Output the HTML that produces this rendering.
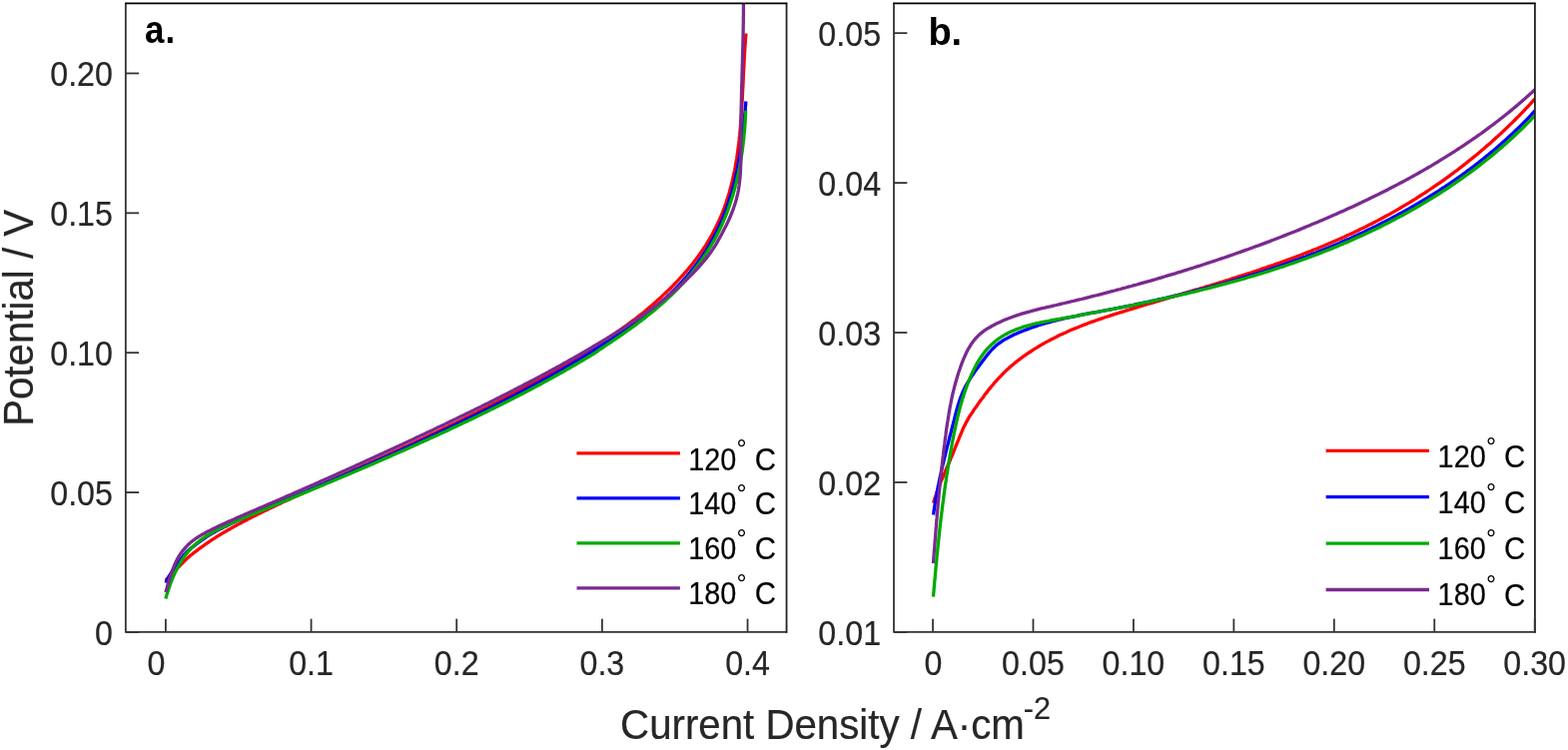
<!DOCTYPE html>
<html lang="en"><head><meta charset="utf-8"><title>Polarization curves</title>
<style>html,body{margin:0;padding:0;background:#fff;}body{width:1570px;height:751px;overflow:hidden;}svg{display:block;}text{font-family:"Liberation Sans",sans-serif;fill:#262626;stroke:#262626;stroke-width:0.2px;}.k{fill:#000;stroke:#000;}.bd{font-weight:bold;fill:#000;stroke:none;}.c{fill:none;stroke-width:3.3;stroke-linejoin:round;stroke-linecap:butt;}</style>
</head><body>
<svg width="1570" height="751" viewBox="0 0 1570 751">
<rect x="0" y="0" width="1570" height="751" fill="#fff"/>
<defs><clipPath id="ca"><rect x="125.85" y="3.25" width="661.70" height="629.70"/></clipPath><clipPath id="cb"><rect x="895.0" y="3.25" width="641.90" height="629.70"/></clipPath></defs>
<g clip-path="url(#ca)">
<path class="c" stroke="#ff0000" d="M165.9,581.2 L166.3,580.7 L166.8,580.1 L167.4,579.4 L168.0,578.7 L168.6,578.1 L169.2,577.4 L169.8,576.7 L170.5,576.0 L171.2,575.3 L171.8,574.6 L172.5,573.9 L173.2,573.2 L174.0,572.5 L174.7,571.8 L175.4,571.1 L176.1,570.4 L176.9,569.7 L177.6,569.0 L178.3,568.2 L179.1,567.5 L179.8,566.8 L180.5,566.1 L181.2,565.4 L181.9,564.7 L182.6,564.0 L183.3,563.3 L183.9,562.6 L184.6,561.9 L185.3,561.2 L186.0,560.5 L186.7,559.8 L187.5,559.1 L188.2,558.4 L189.0,557.7 L189.8,557.0 L190.7,556.2 L191.6,555.5 L192.6,554.7 L193.5,553.9 L194.6,553.2 L195.6,552.4 L196.7,551.6 L197.7,550.8 L198.8,550.0 L199.9,549.2 L201.0,548.4 L202.1,547.6 L203.2,546.8 L204.3,546.0 L205.4,545.2 L206.6,544.4 L207.7,543.6 L208.9,542.8 L210.1,542.0 L211.3,541.2 L212.5,540.4 L213.7,539.6 L215.0,538.8 L216.2,538.0 L217.5,537.2 L218.8,536.4 L220.2,535.5 L221.5,534.7 L222.9,533.9 L224.4,533.0 L225.8,532.2 L227.2,531.4 L228.7,530.5 L230.2,529.7 L231.7,528.8 L233.2,528.0 L234.8,527.1 L236.3,526.3 L237.9,525.4 L239.4,524.6 L241.0,523.7 L242.6,522.9 L244.2,522.0 L245.9,521.2 L247.5,520.4 L249.1,519.5 L250.7,518.7 L252.4,517.8 L254.0,517.0 L255.7,516.2 L257.3,515.4 L259.0,514.5 L260.7,513.7 L262.3,512.9 L264.0,512.1 L265.7,511.2 L267.4,510.4 L269.1,509.6 L270.8,508.8 L272.5,508.0 L274.2,507.2 L275.9,506.3 L277.6,505.5 L279.4,504.7 L281.1,503.9 L282.8,503.1 L284.5,502.3 L286.3,501.5 L288.0,500.7 L289.8,499.9 L291.5,499.1 L293.2,498.3 L295.0,497.5 L296.7,496.7 L298.5,495.9 L300.3,495.1 L302.0,494.3 L303.8,493.5 L305.5,492.7 L307.3,491.9 L309.1,491.1 L310.8,490.3 L312.6,489.5 L314.4,488.7 L316.1,487.9 L317.9,487.1 L319.7,486.3 L321.4,485.5 L323.2,484.7 L325.0,483.9 L326.7,483.1 L328.5,482.3 L330.3,481.5 L332.1,480.7 L333.8,479.9 L335.6,479.1 L337.4,478.3 L339.1,477.5 L340.9,476.7 L342.7,475.9 L344.5,475.1 L346.2,474.3 L348.0,473.5 L349.8,472.7 L351.6,471.9 L353.3,471.1 L355.1,470.3 L356.9,469.5 L358.7,468.7 L360.4,467.9 L362.2,467.1 L364.0,466.3 L365.7,465.5 L367.5,464.7 L369.3,463.9 L371.1,463.1 L372.8,462.3 L374.6,461.5 L376.4,460.7 L378.1,459.9 L379.9,459.1 L381.7,458.3 L383.4,457.5 L385.2,456.7 L386.9,455.9 L388.7,455.1 L390.5,454.2 L392.2,453.4 L394.0,452.6 L395.7,451.8 L397.5,451.0 L399.3,450.2 L401.0,449.4 L402.8,448.6 L404.5,447.8 L406.3,447.0 L408.0,446.2 L409.8,445.4 L411.5,444.6 L413.2,443.7 L415.0,442.9 L416.7,442.1 L418.5,441.3 L420.2,440.5 L421.9,439.7 L423.7,438.9 L425.4,438.1 L427.1,437.3 L428.9,436.4 L430.6,435.6 L432.3,434.8 L434.0,434.0 L435.8,433.2 L437.5,432.4 L439.2,431.6 L440.9,430.7 L442.6,429.9 L444.3,429.1 L446.0,428.3 L447.7,427.5 L449.4,426.6 L451.1,425.8 L452.8,425.0 L454.5,424.2 L456.2,423.4 L457.9,422.5 L459.6,421.7 L461.3,420.9 L463.0,420.1 L464.6,419.3 L466.3,418.4 L468.0,417.6 L469.7,416.8 L471.3,416.0 L473.0,415.1 L474.7,414.3 L476.3,413.5 L478.0,412.6 L479.6,411.8 L481.3,411.0 L482.9,410.2 L484.6,409.3 L486.2,408.5 L487.8,407.7 L489.5,406.8 L491.1,406.0 L492.7,405.2 L494.3,404.3 L496.0,403.5 L497.6,402.7 L499.2,401.8 L500.8,401.0 L502.4,400.2 L504.0,399.3 L505.6,398.5 L507.2,397.6 L508.8,396.8 L510.4,396.0 L511.9,395.1 L513.5,394.3 L515.1,393.5 L516.7,392.6 L518.2,391.8 L519.8,390.9 L521.3,390.1 L522.9,389.3 L524.4,388.4 L526.0,387.6 L527.5,386.7 L529.1,385.9 L530.6,385.0 L532.1,384.2 L533.6,383.4 L535.1,382.5 L536.7,381.7 L538.2,380.8 L539.7,380.0 L541.2,379.2 L542.6,378.3 L544.1,377.5 L545.6,376.6 L547.1,375.8 L548.6,375.0 L550.0,374.1 L551.5,373.3 L552.9,372.4 L554.4,371.6 L555.8,370.8 L557.3,369.9 L558.7,369.1 L560.2,368.2 L561.6,367.4 L563.0,366.6 L564.4,365.7 L565.8,364.9 L567.2,364.1 L568.6,363.2 L570.0,362.4 L571.4,361.6 L572.8,360.7 L574.2,359.9 L575.5,359.1 L576.9,358.2 L578.2,357.4 L579.6,356.6 L580.9,355.7 L582.3,354.9 L583.6,354.1 L584.9,353.3 L586.3,352.4 L587.6,351.6 L588.9,350.8 L590.2,350.0 L591.5,349.1 L592.8,348.3 L594.0,347.5 L595.3,346.7 L597.3,345.5 L599.3,344.3 L601.3,343.1 L603.3,341.8 L605.3,340.6 L607.3,339.4 L609.2,338.1 L611.2,336.8 L613.1,335.6 L615.1,334.3 L617.0,333.0 L618.9,331.7 L620.9,330.4 L622.8,329.0 L624.7,327.7 L626.6,326.4 L628.4,325.0 L630.3,323.6 L632.2,322.2 L634.0,320.9 L635.9,319.5 L637.7,318.0 L639.5,316.6 L641.4,315.2 L643.2,313.7 L645.0,312.3 L646.8,310.8 L648.5,309.3 L650.3,307.8 L652.1,306.3 L653.8,304.8 L655.6,303.2 L657.3,301.7 L659.1,300.1 L660.8,298.6 L662.5,297.0 L664.2,295.4 L665.9,293.8 L667.6,292.2 L669.2,290.6 L670.9,289.0 L672.6,287.3 L674.2,285.7 L675.8,284.0 L677.4,282.3 L679.1,280.6 L680.6,278.9 L682.2,277.2 L683.8,275.5 L685.3,273.7 L686.9,272.0 L688.4,270.2 L689.9,268.4 L691.4,266.6 L692.9,264.8 L694.3,263.0 L695.7,261.1 L697.2,259.3 L698.5,257.4 L699.9,255.5 L701.3,253.6 L702.6,251.7 L703.9,249.7 L705.2,247.8 L706.5,245.8 L707.7,243.8 L708.9,241.8 L710.1,239.8 L711.3,237.8 L712.5,235.7 L713.6,233.7 L714.7,231.6 L715.8,229.6 L716.8,227.5 L717.8,225.4 L718.8,223.3 L719.8,221.2 L720.8,219.0 L721.7,216.9 L722.6,214.8 L723.5,212.6 L724.3,210.5 L725.1,208.3 L725.9,206.1 L726.7,204.0 L727.4,201.8 L728.1,199.6 L728.8,197.4 L729.5,195.2 L730.2,193.0 L730.8,190.7 L731.4,188.5 L732.0,186.3 L732.6,184.0 L733.1,181.8 L733.6,179.5 L734.1,177.3 L734.6,175.0 L735.1,172.7 L735.6,170.5 L736.0,168.2 L736.4,165.9 L736.8,163.6 L737.2,161.3 L737.6,159.0 L737.9,156.7 L738.3,154.4 L738.6,152.1 L738.9,149.8 L739.2,147.5 L739.5,145.2 L739.8,142.9 L740.1,140.5 L740.3,138.2 L740.6,135.9 L740.8,133.6 L741.0,131.2 L741.2,128.9 L741.4,126.6 L741.6,124.2 L741.8,121.9 L742.0,119.5 L742.1,117.2 L742.3,114.9 L742.5,112.5 L742.6,110.2 L742.8,107.8 L742.9,105.5 L743.0,103.1 L743.2,100.8 L743.3,98.4 L743.4,96.1 L743.5,93.7 L743.6,91.4 L743.7,89.1 L743.9,86.7 L744.0,84.4 L744.1,82.0 L744.2,79.7 L744.3,77.4 L744.4,75.0 L744.5,72.7 L744.6,70.4 L744.8,68.0 L744.9,65.7 L745.0,63.4 L745.1,61.1 L745.2,58.7 L745.4,56.4 L745.5,54.1 L745.6,51.8 L745.8,49.5 L745.9,47.2 L746.1,44.9 L746.3,42.6 L746.4,40.3 L746.6,38.1 L746.8,35.8 L747.0,33.5"/>
<path class="c" stroke="#0000ff" d="M166.0,583.6 L166.3,582.9 L166.6,582.3 L166.8,581.7 L167.1,581.2 L167.4,580.6 L167.7,580.0 L168.0,579.4 L168.3,578.8 L168.7,578.2 L169.0,577.5 L169.4,576.9 L169.7,576.3 L170.1,575.7 L170.5,575.1 L170.9,574.4 L171.3,573.8 L171.7,573.2 L172.1,572.5 L172.6,571.9 L173.0,571.3 L173.4,570.6 L173.9,570.0 L174.3,569.3 L174.8,568.7 L175.2,568.1 L175.7,567.4 L176.1,566.8 L176.6,566.1 L177.1,565.5 L177.6,564.8 L178.0,564.2 L178.5,563.5 L179.0,562.9 L179.5,562.2 L179.9,561.5 L180.4,560.9 L180.9,560.2 L181.4,559.6 L181.8,558.9 L182.3,558.3 L182.8,557.6 L183.3,557.0 L183.8,556.3 L184.3,555.6 L184.9,554.9 L185.5,554.3 L186.1,553.6 L186.8,552.9 L187.5,552.1 L188.3,551.4 L189.2,550.7 L190.0,549.9 L191.0,549.1 L191.9,548.4 L193.0,547.6 L194.0,546.8 L195.1,546.0 L196.2,545.2 L197.3,544.3 L198.4,543.5 L199.6,542.7 L200.7,541.9 L201.9,541.0 L203.0,540.2 L204.2,539.4 L205.4,538.6 L206.6,537.7 L207.9,536.9 L209.2,536.0 L210.5,535.2 L211.9,534.4 L213.4,533.5 L214.9,532.7 L216.5,531.8 L218.1,530.9 L219.8,530.1 L221.5,529.2 L223.2,528.4 L224.9,527.5 L226.7,526.7 L228.4,525.8 L230.2,525.0 L232.0,524.1 L233.7,523.3 L235.5,522.5 L237.3,521.6 L239.1,520.8 L240.9,520.0 L242.7,519.2 L244.5,518.4 L246.3,517.5 L248.1,516.7 L250.0,515.9 L251.8,515.1 L253.6,514.3 L255.5,513.5 L257.3,512.7 L259.2,511.9 L261.0,511.1 L262.9,510.3 L264.7,509.5 L266.6,508.7 L268.5,507.9 L270.3,507.1 L272.2,506.4 L274.1,505.6 L275.9,504.8 L277.8,504.0 L279.7,503.2 L281.6,502.4 L283.4,501.6 L285.3,500.8 L287.2,500.1 L289.1,499.3 L291.0,498.5 L292.8,497.7 L294.7,496.9 L296.6,496.1 L298.5,495.3 L300.4,494.5 L302.2,493.7 L304.1,492.9 L306.0,492.2 L307.9,491.4 L309.7,490.6 L311.6,489.8 L313.5,489.0 L315.4,488.2 L317.2,487.4 L319.1,486.6 L321.0,485.8 L322.9,485.0 L324.7,484.2 L326.6,483.4 L328.5,482.6 L330.3,481.8 L332.2,481.0 L334.1,480.2 L335.9,479.4 L337.8,478.6 L339.7,477.8 L341.5,477.0 L343.4,476.2 L345.3,475.4 L347.1,474.6 L349.0,473.8 L350.8,473.0 L352.7,472.1 L354.6,471.3 L356.4,470.5 L358.3,469.7 L360.1,468.9 L362.0,468.1 L363.8,467.3 L365.7,466.5 L367.5,465.7 L369.4,464.9 L371.2,464.0 L373.1,463.2 L374.9,462.4 L376.7,461.6 L378.6,460.8 L380.4,460.0 L382.3,459.2 L384.1,458.3 L385.9,457.5 L387.8,456.7 L389.6,455.9 L391.4,455.1 L393.3,454.2 L395.1,453.4 L396.9,452.6 L398.7,451.8 L400.5,451.0 L402.4,450.1 L404.2,449.3 L406.0,448.5 L407.8,447.7 L409.6,446.8 L411.4,446.0 L413.3,445.2 L415.1,444.4 L416.9,443.5 L418.7,442.7 L420.5,441.9 L422.3,441.0 L424.1,440.2 L425.9,439.4 L427.7,438.5 L429.5,437.7 L431.2,436.9 L433.0,436.1 L434.8,435.2 L436.6,434.4 L438.4,433.5 L440.2,432.7 L441.9,431.9 L443.7,431.0 L445.5,430.2 L447.3,429.4 L449.0,428.5 L450.8,427.7 L452.6,426.8 L454.3,426.0 L456.1,425.2 L457.8,424.3 L459.6,423.5 L461.3,422.6 L463.1,421.8 L464.8,420.9 L466.6,420.1 L468.3,419.3 L470.1,418.4 L471.8,417.6 L473.5,416.7 L475.3,415.9 L477.0,415.0 L478.7,414.2 L480.4,413.3 L482.2,412.5 L483.9,411.6 L485.6,410.8 L487.3,409.9 L489.0,409.1 L490.7,408.2 L492.4,407.4 L494.1,406.5 L495.8,405.7 L497.5,404.8 L499.2,403.9 L500.9,403.1 L502.6,402.2 L504.3,401.4 L505.9,400.5 L507.6,399.7 L509.3,398.8 L510.9,397.9 L512.6,397.1 L514.3,396.2 L515.9,395.4 L517.6,394.5 L519.2,393.6 L520.9,392.8 L522.5,391.9 L524.1,391.1 L525.8,390.2 L527.4,389.3 L529.0,388.5 L530.6,387.6 L532.2,386.7 L533.8,385.9 L535.4,385.0 L537.0,384.2 L538.6,383.3 L540.2,382.4 L541.8,381.6 L543.4,380.7 L545.0,379.8 L546.5,379.0 L548.1,378.1 L549.6,377.3 L551.2,376.4 L552.7,375.5 L554.3,374.7 L555.8,373.8 L557.3,372.9 L558.9,372.1 L560.4,371.2 L561.9,370.4 L563.4,369.5 L564.9,368.6 L566.4,367.8 L567.9,366.9 L569.3,366.1 L570.8,365.2 L572.3,364.4 L573.7,363.5 L575.2,362.6 L576.6,361.8 L578.1,360.9 L579.5,360.1 L580.9,359.2 L582.3,358.4 L583.7,357.5 L585.1,356.7 L586.5,355.8 L587.9,354.9 L589.3,354.1 L590.7,353.2 L592.1,352.4 L593.4,351.5 L594.8,350.7 L596.4,349.7 L598.0,348.7 L599.6,347.7 L601.2,346.7 L602.9,345.7 L604.5,344.7 L606.1,343.7 L607.7,342.6 L609.3,341.6 L611.0,340.6 L612.6,339.5 L614.2,338.5 L615.8,337.4 L617.4,336.3 L619.0,335.2 L620.7,334.2 L622.3,333.1 L623.9,332.0 L625.5,330.9 L627.1,329.8 L628.7,328.6 L630.3,327.5 L631.8,326.4 L633.4,325.2 L635.0,324.1 L636.6,322.9 L638.1,321.8 L639.7,320.6 L641.3,319.4 L642.8,318.2 L644.4,317.0 L645.9,315.8 L647.5,314.6 L649.0,313.4 L650.5,312.2 L652.0,311.0 L653.5,309.7 L655.1,308.5 L656.5,307.2 L658.0,305.9 L659.5,304.7 L661.0,303.4 L662.5,302.1 L663.9,300.8 L665.4,299.5 L666.8,298.2 L668.2,296.8 L669.6,295.5 L671.0,294.2 L672.4,292.8 L673.8,291.5 L675.2,290.1 L676.6,288.7 L677.9,287.3 L679.3,285.9 L680.6,284.5 L681.9,283.1 L683.3,281.7 L684.6,280.2 L685.8,278.8 L687.1,277.3 L688.4,275.9 L689.6,274.4 L690.9,272.9 L692.1,271.4 L693.3,269.9 L694.5,268.4 L695.7,266.9 L696.8,265.3 L698.0,263.8 L699.1,262.3 L700.2,260.7 L701.4,259.1 L702.4,257.5 L703.5,256.0 L704.6,254.4 L705.6,252.7 L706.7,251.1 L707.7,249.5 L708.7,247.9 L709.7,246.2 L710.7,244.6 L711.6,242.9 L712.6,241.2 L713.5,239.6 L714.4,237.9 L715.3,236.2 L716.2,234.5 L717.1,232.8 L717.9,231.0 L718.8,229.3 L719.6,227.6 L720.4,225.8 L721.2,224.1 L722.0,222.3 L722.7,220.6 L723.5,218.8 L724.2,217.0 L724.9,215.2 L725.6,213.4 L726.3,211.6 L727.0,209.8 L727.6,208.0 L728.3,206.2 L728.9,204.4 L729.5,202.5 L730.1,200.7 L730.7,198.9 L731.2,197.0 L731.8,195.2 L732.3,193.3 L732.9,191.4 L733.4,189.6 L733.9,187.7 L734.4,185.8 L734.8,183.9 L735.3,182.1 L735.8,180.2 L736.2,178.3 L736.6,176.4 L737.1,174.5 L737.5,172.6 L737.9,170.7 L738.3,168.8 L738.6,166.9 L739.0,164.9 L739.4,163.0 L739.7,161.1 L740.1,159.2 L740.4,157.3 L740.7,155.3 L741.0,153.4 L741.3,151.5 L741.6,149.6 L741.9,147.6 L742.2,145.7 L742.5,143.8 L742.7,141.8 L743.0,139.9 L743.2,138.0 L743.5,136.1 L743.7,134.1 L743.9,132.2 L744.2,130.3 L744.4,128.3 L744.6,126.4 L744.8,124.5 L745.0,122.6 L745.2,120.6 L745.4,118.7 L745.6,116.8 L745.7,114.9 L745.9,112.9 L746.1,111.0 L746.3,109.1 L746.4,107.2 L746.6,105.3 L746.7,103.4 L746.9,101.5"/>
<path class="c" stroke="#00aa00" d="M165.9,599.5 L166.2,598.3 L166.4,597.7 L166.6,597.1 L166.8,596.4 L166.9,595.8 L167.1,595.2 L167.3,594.6 L167.5,594.0 L167.7,593.4 L167.9,592.8 L168.1,592.2 L168.3,591.6 L168.5,591.0 L168.7,590.4 L168.9,589.7 L169.1,589.1 L169.3,588.5 L169.5,587.9 L169.7,587.3 L169.9,586.7 L170.1,586.0 L170.4,585.4 L170.6,584.8 L170.8,584.2 L171.0,583.6 L171.3,582.9 L171.5,582.3 L171.8,581.7 L172.0,581.0 L172.3,580.4 L172.5,579.8 L172.8,579.1 L173.0,578.5 L173.3,577.9 L173.6,577.2 L173.9,576.6 L174.1,576.0 L174.4,575.3 L174.7,574.7 L175.0,574.0 L175.3,573.4 L175.6,572.7 L176.0,572.1 L176.3,571.4 L176.6,570.8 L176.9,570.1 L177.3,569.5 L177.6,568.8 L178.0,568.1 L178.3,567.5 L178.7,566.8 L179.0,566.2 L179.4,565.5 L179.8,564.8 L180.2,564.1 L180.6,563.5 L181.0,562.8 L181.4,562.1 L181.8,561.4 L182.2,560.7 L182.7,560.1 L183.1,559.4 L183.6,558.7 L184.1,558.0 L184.6,557.3 L185.1,556.5 L185.6,555.8 L186.2,555.1 L186.8,554.4 L187.4,553.6 L188.0,552.9 L188.6,552.1 L189.3,551.4 L190.0,550.6 L190.7,549.8 L191.5,549.0 L192.3,548.2 L193.1,547.4 L193.9,546.6 L194.8,545.8 L195.8,544.9 L196.7,544.1 L197.8,543.2 L198.8,542.4 L199.9,541.5 L201.1,540.6 L202.3,539.7 L203.6,538.8 L205.0,537.9 L206.4,537.0 L207.9,536.1 L209.4,535.2 L210.9,534.3 L212.5,533.3 L214.2,532.4 L215.9,531.5 L217.6,530.6 L219.4,529.7 L221.2,528.8 L223.0,527.9 L224.9,527.0 L226.8,526.1 L228.7,525.2 L230.7,524.4 L232.7,523.5 L234.7,522.6 L236.7,521.7 L238.7,520.9 L240.8,520.0 L242.8,519.1 L244.9,518.2 L247.0,517.4 L249.1,516.5 L251.2,515.6 L253.3,514.8 L255.4,513.9 L257.5,513.0 L259.6,512.2 L261.7,511.3 L263.8,510.4 L265.9,509.6 L268.0,508.7 L270.1,507.8 L272.2,507.0 L274.3,506.1 L276.4,505.2 L278.5,504.4 L280.6,503.5 L282.7,502.6 L284.8,501.8 L286.9,500.9 L289.0,500.1 L291.0,499.2 L293.1,498.3 L295.2,497.5 L297.3,496.6 L299.4,495.7 L301.5,494.9 L303.5,494.0 L305.6,493.1 L307.7,492.3 L309.8,491.4 L311.8,490.5 L313.9,489.7 L316.0,488.8 L318.1,487.9 L320.1,487.1 L322.2,486.2 L324.3,485.3 L326.3,484.5 L328.4,483.6 L330.5,482.7 L332.5,481.9 L334.6,481.0 L336.6,480.1 L338.7,479.3 L340.7,478.4 L342.8,477.5 L344.8,476.7 L346.9,475.8 L348.9,474.9 L351.0,474.1 L353.0,473.2 L355.1,472.3 L357.1,471.4 L359.2,470.6 L361.2,469.7 L363.2,468.8 L365.3,467.9 L367.3,467.1 L369.4,466.2 L371.4,465.3 L373.4,464.4 L375.4,463.6 L377.5,462.7 L379.5,461.8 L381.5,460.9 L383.5,460.0 L385.6,459.1 L387.6,458.3 L389.6,457.4 L391.6,456.5 L393.6,455.6 L395.6,454.7 L397.7,453.8 L399.7,453.0 L401.7,452.1 L403.7,451.2 L405.7,450.3 L407.7,449.4 L409.7,448.5 L411.7,447.6 L413.7,446.7 L415.7,445.8 L417.7,444.9 L419.6,444.0 L421.6,443.1 L423.6,442.2 L425.6,441.3 L427.6,440.4 L429.6,439.5 L431.6,438.6 L433.5,437.7 L435.5,436.8 L437.5,435.9 L439.5,435.0 L441.4,434.1 L443.4,433.2 L445.4,432.3 L447.3,431.4 L449.3,430.4 L451.2,429.5 L453.2,428.6 L455.2,427.7 L457.1,426.8 L459.1,425.9 L461.0,424.9 L462.9,424.0 L464.9,423.1 L466.8,422.2 L468.8,421.3 L470.7,420.3 L472.6,419.4 L474.6,418.5 L476.5,417.6 L478.4,416.6 L480.3,415.7 L482.2,414.8 L484.1,413.8 L486.0,412.9 L487.9,412.0 L489.8,411.0 L491.7,410.1 L493.6,409.2 L495.5,408.2 L497.4,407.3 L499.3,406.4 L501.1,405.4 L503.0,404.5 L504.9,403.6 L506.7,402.6 L508.6,401.7 L510.4,400.7 L512.3,399.8 L514.1,398.9 L515.9,397.9 L517.8,397.0 L519.6,396.1 L521.4,395.1 L523.2,394.2 L525.0,393.2 L526.8,392.3 L528.6,391.4 L530.4,390.4 L532.2,389.5 L534.0,388.5 L535.8,387.6 L537.5,386.6 L539.3,385.7 L541.1,384.8 L542.8,383.8 L544.5,382.9 L546.3,381.9 L548.0,381.0 L549.7,380.1 L551.5,379.1 L553.2,378.2 L554.9,377.2 L556.6,376.3 L558.3,375.4 L559.9,374.4 L561.6,373.5 L563.3,372.5 L564.9,371.6 L566.6,370.7 L568.2,369.7 L569.9,368.8 L571.5,367.8 L573.1,366.9 L574.7,366.0 L576.4,365.0 L577.9,364.1 L579.5,363.2 L581.1,362.2 L582.7,361.3 L584.3,360.4 L585.8,359.4 L587.4,358.5 L588.9,357.6 L590.4,356.6 L592.0,355.7 L593.5,354.8 L595.0,353.8 L596.5,352.8 L598.1,351.8 L599.6,350.7 L601.2,349.7 L602.8,348.6 L604.3,347.6 L605.9,346.5 L607.4,345.5 L609.0,344.4 L610.6,343.4 L612.1,342.3 L613.7,341.2 L615.3,340.2 L616.8,339.1 L618.4,338.0 L620.0,337.0 L621.5,335.9 L623.1,334.8 L624.6,333.7 L626.2,332.6 L627.7,331.5 L629.3,330.4 L630.8,329.3 L632.4,328.2 L633.9,327.1 L635.5,325.9 L637.0,324.8 L638.5,323.7 L640.1,322.5 L641.6,321.4 L643.1,320.2 L644.6,319.1 L646.1,317.9 L647.6,316.7 L649.1,315.5 L650.6,314.3 L652.1,313.1 L653.6,311.9 L655.1,310.7 L656.5,309.5 L658.0,308.3 L659.5,307.0 L660.9,305.8 L662.3,304.5 L663.8,303.3 L665.2,302.0 L666.6,300.7 L668.0,299.4 L669.4,298.1 L670.8,296.8 L672.2,295.5 L673.5,294.2 L674.9,292.9 L676.2,291.5 L677.6,290.2 L678.9,288.8 L680.2,287.4 L681.5,286.1 L682.8,284.7 L684.1,283.3 L685.4,281.9 L686.6,280.4 L687.9,279.0 L689.1,277.6 L690.4,276.1 L691.6,274.7 L692.8,273.2 L694.0,271.7 L695.2,270.3 L696.3,268.8 L697.5,267.3 L698.6,265.8 L699.8,264.3 L700.9,262.7 L702.0,261.2 L703.1,259.7 L704.1,258.1 L705.2,256.5 L706.3,255.0 L707.3,253.4 L708.3,251.8 L709.3,250.2 L710.3,248.6 L711.3,247.0 L712.3,245.4 L713.2,243.8 L714.2,242.1 L715.1,240.5 L716.0,238.8 L716.9,237.2 L717.8,235.5 L718.6,233.8 L719.5,232.2 L720.3,230.5 L721.1,228.8 L721.9,227.1 L722.7,225.3 L723.5,223.6 L724.2,221.9 L724.9,220.1 L725.7,218.4 L726.4,216.7 L727.1,214.9 L727.8,213.1 L728.4,211.4 L729.1,209.6 L729.7,207.8 L730.3,206.0 L730.9,204.2 L731.5,202.4 L732.1,200.6 L732.7,198.8 L733.3,197.0 L733.8,195.2 L734.3,193.4 L734.9,191.5 L735.4,189.7 L735.9,187.9 L736.3,186.0 L736.8,184.2 L737.3,182.3 L737.7,180.5 L738.1,178.6 L738.6,176.8 L739.0,174.9 L739.4,173.1 L739.8,171.2 L740.1,169.3 L740.5,167.5 L740.8,165.6 L741.2,163.7 L741.5,161.8 L741.8,159.9 L742.1,158.1 L742.4,156.2 L742.7,154.3 L743.0,152.4 L743.3,150.5 L743.5,148.6 L743.8,146.7 L744.0,144.9 L744.2,143.0 L744.4,141.1 L744.7,139.2 L744.9,137.3 L745.0,135.4 L745.2,133.5 L745.4,131.6 L745.6,129.7 L745.7,127.8 L745.8,126.0 L746.0,124.1 L746.1,122.2 L746.2,120.3 L746.3,118.4 L746.4,116.5 L746.5,114.7 L746.6,112.8 L746.7,110.9"/>
<path class="c" stroke="#7b2a8f" d="M166.0,593.0 L166.2,592.0 L166.4,591.4 L166.5,590.8 L166.7,590.2 L166.8,589.6 L167.0,589.1 L167.2,588.5 L167.3,587.9 L167.5,587.3 L167.6,586.7 L167.8,586.1 L168.0,585.5 L168.1,584.9 L168.3,584.3 L168.5,583.7 L168.7,583.1 L168.8,582.5 L169.0,581.9 L169.2,581.3 L169.4,580.7 L169.6,580.1 L169.7,579.5 L169.9,578.9 L170.1,578.3 L170.3,577.7 L170.5,577.1 L170.7,576.5 L170.9,575.9 L171.1,575.3 L171.3,574.7 L171.6,574.1 L171.8,573.5 L172.0,572.9 L172.2,572.2 L172.4,571.6 L172.7,571.0 L172.9,570.4 L173.1,569.8 L173.4,569.2 L173.6,568.5 L173.9,567.9 L174.1,567.3 L174.4,566.7 L174.6,566.0 L174.9,565.4 L175.2,564.8 L175.5,564.2 L175.7,563.5 L176.0,562.9 L176.3,562.2 L176.6,561.6 L177.0,561.0 L177.3,560.3 L177.6,559.6 L178.0,559.0 L178.4,558.3 L178.7,557.7 L179.2,557.0 L179.6,556.3 L180.0,555.6 L180.5,554.9 L180.9,554.2 L181.4,553.5 L182.0,552.8 L182.5,552.1 L183.1,551.4 L183.7,550.6 L184.3,549.9 L185.0,549.1 L185.6,548.4 L186.3,547.6 L187.1,546.8 L187.8,546.0 L188.6,545.2 L189.5,544.4 L190.4,543.6 L191.3,542.8 L192.4,542.0 L193.4,541.1 L194.6,540.3 L195.8,539.4 L197.1,538.5 L198.5,537.6 L200.0,536.7 L201.5,535.8 L203.2,534.9 L204.9,534.0 L206.6,533.0 L208.4,532.1 L210.2,531.2 L212.0,530.3 L213.9,529.3 L215.7,528.4 L217.6,527.5 L219.5,526.6 L221.4,525.7 L223.4,524.8 L225.3,523.9 L227.2,523.0 L229.2,522.1 L231.2,521.3 L233.2,520.4 L235.2,519.5 L237.2,518.6 L239.2,517.7 L241.2,516.8 L243.2,516.0 L245.2,515.1 L247.3,514.2 L249.3,513.3 L251.3,512.4 L253.4,511.6 L255.4,510.7 L257.5,509.8 L259.5,508.9 L261.5,508.1 L263.6,507.2 L265.6,506.3 L267.6,505.4 L269.7,504.6 L271.7,503.7 L273.7,502.8 L275.7,501.9 L277.8,501.0 L279.8,500.2 L281.8,499.3 L283.8,498.4 L285.8,497.5 L287.9,496.6 L289.9,495.8 L291.9,494.9 L293.9,494.0 L295.9,493.1 L297.9,492.2 L300.0,491.3 L302.0,490.5 L304.0,489.6 L306.0,488.7 L308.0,487.8 L310.0,486.9 L312.0,486.0 L314.0,485.2 L316.0,484.3 L318.0,483.4 L320.0,482.5 L322.0,481.6 L324.0,480.7 L326.0,479.8 L328.0,479.0 L330.0,478.1 L332.0,477.2 L334.0,476.3 L335.9,475.4 L337.9,474.5 L339.9,473.6 L341.9,472.7 L343.9,471.8 L345.9,470.9 L347.8,470.1 L349.8,469.2 L351.8,468.3 L353.8,467.4 L355.8,466.5 L357.7,465.6 L359.7,464.7 L361.7,463.8 L363.6,462.9 L365.6,462.0 L367.6,461.1 L369.5,460.2 L371.5,459.3 L373.5,458.4 L375.4,457.5 L377.4,456.6 L379.4,455.7 L381.3,454.8 L383.3,453.9 L385.2,453.0 L387.2,452.1 L389.1,451.2 L391.1,450.3 L393.0,449.4 L395.0,448.5 L396.9,447.6 L398.9,446.7 L400.8,445.8 L402.8,444.9 L404.7,444.0 L406.7,443.1 L408.6,442.2 L410.5,441.3 L412.5,440.4 L414.4,439.5 L416.3,438.6 L418.3,437.6 L420.2,436.7 L422.1,435.8 L424.1,434.9 L426.0,434.0 L427.9,433.1 L429.8,432.2 L431.8,431.3 L433.7,430.4 L435.6,429.4 L437.5,428.5 L439.4,427.6 L441.4,426.7 L443.3,425.8 L445.2,424.9 L447.1,423.9 L449.0,423.0 L450.9,422.1 L452.8,421.2 L454.7,420.3 L456.6,419.4 L458.5,418.4 L460.4,417.5 L462.3,416.6 L464.2,415.7 L466.1,414.7 L468.0,413.8 L469.9,412.9 L471.8,412.0 L473.7,411.1 L475.5,410.1 L477.4,409.2 L479.3,408.3 L481.2,407.4 L483.1,406.4 L484.9,405.5 L486.8,404.6 L488.7,403.6 L490.5,402.7 L492.4,401.8 L494.2,400.9 L496.1,399.9 L497.9,399.0 L499.8,398.1 L501.6,397.1 L503.5,396.2 L505.3,395.3 L507.1,394.4 L509.0,393.4 L510.8,392.5 L512.6,391.6 L514.4,390.6 L516.2,389.7 L518.0,388.8 L519.9,387.8 L521.7,386.9 L523.5,386.0 L525.2,385.0 L527.0,384.1 L528.8,383.2 L530.6,382.2 L532.4,381.3 L534.2,380.4 L535.9,379.4 L537.7,378.5 L539.4,377.6 L541.2,376.6 L542.9,375.7 L544.7,374.8 L546.4,373.8 L548.2,372.9 L549.9,372.0 L551.6,371.0 L553.3,370.1 L555.1,369.2 L556.8,368.2 L558.5,367.3 L560.2,366.4 L561.9,365.4 L563.6,364.5 L565.2,363.5 L566.9,362.6 L568.6,361.7 L570.2,360.7 L571.9,359.8 L573.6,358.9 L575.2,357.9 L576.8,357.0 L578.5,356.1 L580.1,355.1 L581.7,354.2 L583.3,353.3 L585.0,352.3 L586.6,351.4 L588.2,350.5 L589.7,349.5 L591.3,348.6 L592.9,347.7 L594.5,346.7 L596.7,345.4 L598.9,344.1 L601.2,342.8 L603.4,341.4 L605.6,340.1 L607.8,338.8 L610.0,337.4 L612.2,336.1 L614.4,334.7 L616.6,333.4 L618.8,332.0 L621.0,330.6 L623.2,329.2 L625.4,327.8 L627.5,326.4 L629.7,325.0 L631.8,323.6 L634.0,322.2 L636.1,320.8 L638.3,319.3 L640.4,317.9 L642.5,316.4 L644.6,314.9 L646.7,313.4 L648.8,311.9 L650.9,310.4 L653.0,308.9 L655.1,307.4 L657.1,305.8 L659.2,304.3 L661.2,302.7 L663.2,301.1 L665.2,299.5 L667.2,297.9 L669.2,296.3 L671.2,294.6 L673.2,293.0 L675.1,291.3 L677.1,289.6 L679.0,287.9 L680.9,286.2 L682.8,284.4 L684.7,282.6 L686.6,280.9 L688.4,279.1 L690.3,277.2 L692.1,275.4 L693.9,273.5 L695.7,271.7 L697.5,269.8 L699.3,267.8 L701.0,265.9 L702.7,263.9 L704.4,262.0 L706.1,259.9 L707.7,257.9 L709.3,255.9 L710.8,253.8 L712.3,251.7 L713.7,249.6 L715.1,247.5 L716.5,245.3 L717.8,243.1 L719.0,240.9 L720.3,238.7 L721.5,236.5 L722.7,234.2 L723.9,231.9 L725.1,229.6 L726.3,227.3 L727.5,225.0 L728.6,222.6 L729.7,220.2 L730.8,217.8 L731.8,215.4 L732.8,213.0 L733.7,210.6 L734.6,208.1 L735.4,205.7 L736.2,203.2 L737.0,200.7 L737.6,198.3 L738.2,195.8 L738.8,193.3 L739.3,190.7 L739.7,188.2 L740.1,185.7 L740.4,183.1 L740.7,180.6 L741.0,178.1 L741.2,175.5 L741.4,172.9 L741.5,170.4 L741.6,167.8 L741.7,165.2 L741.8,162.7 L741.8,160.1 L741.9,157.5 L741.9,154.9 L741.9,152.3 L741.9,149.7 L741.9,147.1 L741.9,144.6 L741.8,142.0 L741.8,139.4 L741.8,136.8 L741.8,134.2 L741.9,131.6 L741.9,129.0 L741.9,126.4 L741.9,123.9 L741.9,121.3 L742.0,118.7 L742.0,116.1 L742.1,113.5 L742.1,110.9 L742.1,108.4 L742.2,105.8 L742.3,103.2 L742.3,100.6 L742.4,98.0 L742.4,95.5 L742.5,92.9 L742.6,90.3 L742.6,87.7 L742.7,85.1 L742.8,82.6 L742.9,80.0 L742.9,77.4 L743.0,74.8 L743.1,72.3 L743.1,69.7 L743.2,67.1 L743.3,64.5 L743.4,61.9 L743.4,59.4 L743.5,56.8 L743.6,54.2 L743.7,51.6 L743.7,49.1 L743.8,46.5 L743.9,43.9 L743.9,41.3 L744.0,38.7 L744.0,36.2 L744.1,33.6 L744.1,31.0 L744.2,28.4 L744.2,25.8 L744.3,23.3 L744.3,20.7 L744.3,18.1 L744.4,15.5 L744.4,12.9 L744.4,10.3 L744.4,7.8 L744.4,5.2 L744.5,2.6 L744.4,-0.0"/>
</g>
<g clip-path="url(#cb)">
<path class="c" stroke="#ff0000" d="M934.6,503.7 L935.3,501.3 L936.1,498.8 L936.9,496.4 L937.7,494.0 L938.6,491.6 L939.5,489.3 L940.4,486.9 L941.3,484.5 L942.2,482.2 L943.2,479.8 L944.2,477.4 L945.2,475.1 L946.2,472.7 L947.2,470.4 L948.2,468.0 L949.2,465.7 L950.2,463.4 L951.2,461.0 L952.2,458.7 L953.2,456.3 L954.2,454.0 L955.1,451.6 L956.1,449.2 L957.0,446.9 L958.0,444.5 L958.9,442.1 L959.9,439.8 L960.8,437.4 L961.8,435.1 L962.8,432.8 L963.8,430.4 L964.8,428.1 L965.9,425.9 L967.1,423.6 L968.3,421.4 L969.5,419.2 L970.8,417.0 L972.2,414.9 L973.6,412.8 L975.0,410.6 L976.5,408.6 L978.0,406.5 L979.4,404.4 L980.9,402.3 L982.4,400.2 L984.0,398.2 L985.5,396.1 L987.0,394.1 L988.6,392.1 L990.1,390.1 L991.7,388.1 L993.3,386.2 L995.0,384.2 L996.6,382.3 L998.3,380.5 L1000.0,378.6 L1001.7,376.8 L1003.5,375.0 L1005.2,373.2 L1007.1,371.4 L1008.9,369.7 L1010.8,368.0 L1012.7,366.3 L1014.7,364.7 L1016.6,363.1 L1018.6,361.5 L1020.7,359.9 L1022.7,358.4 L1024.8,356.8 L1026.9,355.4 L1029.0,353.9 L1031.2,352.5 L1033.3,351.1 L1035.5,349.7 L1037.7,348.3 L1039.9,347.0 L1042.1,345.7 L1044.3,344.4 L1046.5,343.1 L1048.8,341.9 L1051.0,340.7 L1053.3,339.5 L1055.6,338.4 L1057.9,337.2 L1060.1,336.1 L1062.4,335.0 L1064.7,333.9 L1067.1,332.9 L1069.4,331.8 L1071.7,330.8 L1074.0,329.8 L1076.4,328.9 L1078.7,327.9 L1081.1,326.9 L1083.4,326.0 L1085.8,325.1 L1088.1,324.2 L1090.5,323.3 L1092.9,322.4 L1095.3,321.6 L1097.7,320.7 L1100.1,319.9 L1102.5,319.1 L1104.9,318.3 L1107.3,317.5 L1109.7,316.7 L1112.1,315.9 L1114.5,315.1 L1116.9,314.3 L1119.3,313.6 L1121.8,312.8 L1124.2,312.1 L1126.6,311.3 L1129.0,310.6 L1131.5,309.8 L1133.9,309.1 L1136.3,308.4 L1138.8,307.6 L1141.2,306.9 L1143.7,306.2 L1146.1,305.5 L1148.5,304.7 L1151.0,304.0 L1153.4,303.3 L1155.9,302.6 L1158.3,301.8 L1160.8,301.1 L1163.2,300.4 L1165.6,299.7 L1168.1,298.9 L1170.5,298.2 L1173.0,297.5 L1175.4,296.8 L1177.9,296.0 L1180.3,295.3 L1182.8,294.6 L1185.2,293.8 L1187.7,293.1 L1190.1,292.4 L1192.5,291.7 L1195.0,290.9 L1197.4,290.2 L1199.9,289.5 L1202.3,288.7 L1204.8,288.0 L1207.2,287.2 L1209.7,286.5 L1212.1,285.8 L1214.5,285.0 L1217.0,284.3 L1219.4,283.5 L1221.9,282.7 L1224.3,282.0 L1226.7,281.2 L1229.2,280.5 L1231.6,279.7 L1234.0,278.9 L1236.5,278.2 L1238.9,277.4 L1241.3,276.6 L1243.8,275.8 L1246.2,275.0 L1248.6,274.2 L1251.0,273.5 L1253.5,272.7 L1255.9,271.9 L1258.3,271.0 L1260.7,270.2 L1263.1,269.4 L1265.5,268.6 L1267.9,267.8 L1270.4,266.9 L1272.8,266.1 L1275.2,265.3 L1277.6,264.4 L1280.0,263.6 L1282.4,262.7 L1284.8,261.9 L1287.2,261.0 L1289.5,260.1 L1291.9,259.2 L1294.3,258.4 L1296.7,257.5 L1299.1,256.6 L1301.5,255.7 L1303.8,254.8 L1306.2,253.8 L1308.6,252.9 L1310.9,252.0 L1313.3,251.1 L1315.7,250.1 L1318.0,249.2 L1320.4,248.2 L1322.7,247.2 L1325.1,246.3 L1327.4,245.3 L1329.8,244.3 L1332.1,243.3 L1334.4,242.3 L1336.8,241.3 L1339.1,240.3 L1341.4,239.3 L1343.7,238.2 L1346.1,237.2 L1348.4,236.1 L1350.7,235.1 L1353.0,234.0 L1355.3,232.9 L1357.6,231.8 L1359.9,230.7 L1362.1,229.6 L1364.4,228.5 L1366.7,227.4 L1369.0,226.2 L1371.2,225.1 L1373.5,224.0 L1375.8,222.8 L1378.0,221.6 L1380.3,220.4 L1382.5,219.2 L1384.8,218.0 L1387.0,216.8 L1389.2,215.6 L1391.5,214.4 L1393.7,213.1 L1395.9,211.9 L1398.1,210.6 L1400.3,209.3 L1402.5,208.0 L1404.7,206.7 L1406.9,205.4 L1409.1,204.1 L1411.3,202.8 L1413.4,201.5 L1415.6,200.1 L1417.8,198.8 L1419.9,197.4 L1422.1,196.0 L1424.2,194.7 L1426.4,193.3 L1428.5,191.9 L1430.6,190.5 L1432.8,189.0 L1434.9,187.6 L1437.0,186.2 L1439.1,184.7 L1441.2,183.3 L1443.3,181.8 L1445.4,180.3 L1447.4,178.9 L1449.5,177.4 L1451.6,175.9 L1453.6,174.3 L1455.7,172.8 L1457.7,171.3 L1459.8,169.8 L1461.8,168.2 L1463.8,166.6 L1465.8,165.1 L1467.8,163.5 L1469.8,161.9 L1471.8,160.3 L1473.8,158.7 L1475.8,157.1 L1477.8,155.5 L1479.7,153.9 L1481.7,152.2 L1483.6,150.6 L1485.6,148.9 L1487.5,147.3 L1489.4,145.6 L1491.4,143.9 L1493.3,142.2 L1495.2,140.5 L1497.1,138.8 L1499.0,137.1 L1500.8,135.4 L1502.7,133.7 L1504.6,131.9 L1506.4,130.2 L1508.3,128.4 L1510.1,126.7 L1511.9,124.9 L1513.8,123.1 L1515.6,121.3 L1517.4,119.5 L1519.2,117.7 L1521.0,115.9 L1522.7,114.1 L1524.5,112.3 L1526.3,110.5 L1528.0,108.6 L1529.7,106.8 L1531.5,104.9 L1533.2,103.0 L1534.9,101.2 L1536.6,99.3 L1538.3,97.4 L1540.0,95.5"/>
<path class="c" stroke="#0000ff" d="M934.6,515.5 L934.9,512.9 L935.3,510.3 L935.7,507.7 L936.1,505.1 L936.5,502.5 L937.0,499.9 L937.4,497.3 L937.9,494.7 L938.3,492.1 L938.8,489.5 L939.3,486.9 L939.9,484.4 L940.4,481.8 L940.9,479.2 L941.5,476.6 L942.1,474.1 L942.6,471.5 L943.2,468.9 L943.8,466.4 L944.4,463.8 L945.0,461.3 L945.6,458.7 L946.3,456.2 L946.9,453.6 L947.5,451.0 L948.2,448.5 L948.8,445.9 L949.5,443.4 L950.1,440.8 L950.8,438.3 L951.4,435.7 L952.1,433.2 L952.7,430.6 L953.4,428.1 L954.1,425.5 L954.7,422.9 L955.4,420.4 L956.0,417.8 L956.7,415.3 L957.3,412.7 L958.0,410.2 L958.7,407.6 L959.5,405.1 L960.3,402.6 L961.1,400.1 L962.0,397.7 L962.9,395.2 L963.9,392.8 L965.0,390.5 L966.1,388.1 L967.3,385.8 L968.6,383.6 L970.0,381.3 L971.4,379.1 L972.8,376.9 L974.3,374.8 L975.8,372.6 L977.4,370.4 L978.9,368.3 L980.5,366.1 L982.1,364.0 L983.7,361.8 L985.3,359.7 L986.9,357.6 L988.5,355.5 L990.2,353.4 L991.9,351.5 L993.7,349.5 L995.6,347.7 L997.5,345.9 L999.5,344.3 L1001.6,342.8 L1003.8,341.3 L1006.1,339.9 L1008.4,338.7 L1010.7,337.4 L1013.1,336.3 L1015.5,335.1 L1017.9,334.1 L1020.3,333.0 L1022.7,332.0 L1025.1,331.0 L1027.6,330.1 L1030.0,329.2 L1032.5,328.3 L1035.0,327.4 L1037.5,326.6 L1039.9,325.8 L1042.4,325.0 L1045.0,324.3 L1047.5,323.5 L1050.0,322.8 L1052.5,322.2 L1055.0,321.5 L1057.6,320.8 L1060.1,320.2 L1062.7,319.6 L1065.2,319.0 L1067.8,318.4 L1070.3,317.9 L1072.9,317.3 L1075.5,316.8 L1078.1,316.3 L1080.6,315.7 L1083.2,315.2 L1085.8,314.7 L1088.4,314.2 L1091.0,313.7 L1093.6,313.2 L1096.1,312.8 L1098.7,312.3 L1101.3,311.8 L1103.9,311.3 L1106.5,310.8 L1109.1,310.3 L1111.7,309.8 L1114.3,309.4 L1116.9,308.9 L1119.5,308.4 L1122.1,307.8 L1124.7,307.3 L1127.2,306.8 L1129.8,306.3 L1132.4,305.8 L1135.0,305.3 L1137.6,304.7 L1140.2,304.2 L1142.8,303.6 L1145.3,303.1 L1147.9,302.6 L1150.5,302.0 L1153.1,301.4 L1155.7,300.9 L1158.3,300.3 L1160.8,299.7 L1163.4,299.2 L1166.0,298.6 L1168.6,298.0 L1171.1,297.4 L1173.7,296.8 L1176.3,296.2 L1178.8,295.6 L1181.4,295.0 L1184.0,294.4 L1186.5,293.8 L1189.1,293.1 L1191.7,292.5 L1194.2,291.9 L1196.8,291.2 L1199.3,290.6 L1201.9,289.9 L1204.4,289.3 L1207.0,288.6 L1209.6,287.9 L1212.1,287.3 L1214.6,286.6 L1217.2,285.9 L1219.7,285.2 L1222.3,284.5 L1224.8,283.8 L1227.4,283.1 L1229.9,282.4 L1232.4,281.7 L1235.0,280.9 L1237.5,280.2 L1240.0,279.4 L1242.5,278.7 L1245.1,277.9 L1247.6,277.2 L1250.1,276.4 L1252.6,275.7 L1255.1,274.9 L1257.7,274.1 L1260.2,273.3 L1262.7,272.5 L1265.2,271.7 L1267.7,270.9 L1270.2,270.1 L1272.7,269.2 L1275.2,268.4 L1277.7,267.6 L1280.2,266.7 L1282.6,265.9 L1285.1,265.0 L1287.6,264.1 L1290.1,263.3 L1292.6,262.4 L1295.0,261.5 L1297.5,260.6 L1300.0,259.7 L1302.5,258.8 L1304.9,257.9 L1307.4,257.0 L1309.8,256.0 L1312.3,255.1 L1314.7,254.1 L1317.2,253.2 L1319.6,252.2 L1322.1,251.2 L1324.5,250.3 L1326.9,249.3 L1329.4,248.3 L1331.8,247.3 L1334.2,246.3 L1336.7,245.3 L1339.1,244.2 L1341.5,243.2 L1343.9,242.1 L1346.3,241.1 L1348.7,240.0 L1351.1,239.0 L1353.5,237.9 L1355.9,236.8 L1358.3,235.7 L1360.7,234.6 L1363.1,233.5 L1365.5,232.4 L1367.8,231.3 L1370.2,230.1 L1372.6,229.0 L1374.9,227.8 L1377.3,226.7 L1379.7,225.5 L1382.0,224.3 L1384.4,223.1 L1386.7,221.9 L1389.0,220.7 L1391.4,219.5 L1393.7,218.3 L1396.0,217.0 L1398.4,215.8 L1400.7,214.5 L1403.0,213.3 L1405.3,212.0 L1407.6,210.7 L1409.9,209.4 L1412.2,208.1 L1414.5,206.8 L1416.8,205.5 L1419.0,204.2 L1421.3,202.8 L1423.6,201.5 L1425.8,200.1 L1428.1,198.8 L1430.3,197.4 L1432.6,196.0 L1434.8,194.6 L1437.0,193.2 L1439.3,191.8 L1441.5,190.4 L1443.7,188.9 L1445.9,187.5 L1448.1,186.0 L1450.3,184.6 L1452.5,183.1 L1454.6,181.6 L1456.8,180.1 L1459.0,178.6 L1461.1,177.1 L1463.3,175.6 L1465.4,174.0 L1467.5,172.5 L1469.6,170.9 L1471.8,169.4 L1473.9,167.8 L1476.0,166.2 L1478.1,164.6 L1480.1,163.0 L1482.2,161.4 L1484.3,159.7 L1486.3,158.1 L1488.4,156.4 L1490.4,154.8 L1492.4,153.1 L1494.5,151.4 L1496.5,149.7 L1498.5,148.0 L1500.5,146.3 L1502.5,144.6 L1504.4,142.8 L1506.4,141.1 L1508.4,139.3 L1510.3,137.5 L1512.2,135.7 L1514.2,133.9 L1516.1,132.1 L1518.0,130.3 L1519.9,128.5 L1521.8,126.6 L1523.6,124.8 L1525.5,122.9 L1527.3,121.1 L1529.2,119.2 L1531.0,117.3 L1532.8,115.4 L1534.6,113.4 L1536.4,111.5 L1538.2,109.6 L1540.0,107.6"/>
<path class="c" stroke="#7b2a8f" d="M934.5,564.1 L934.7,561.2 L934.9,558.4 L935.1,555.5 L935.3,552.6 L935.6,549.8 L935.8,546.9 L936.0,544.1 L936.2,541.2 L936.5,538.4 L936.7,535.5 L936.9,532.6 L937.1,529.8 L937.4,526.9 L937.6,524.1 L937.8,521.2 L938.1,518.4 L938.3,515.5 L938.6,512.7 L938.8,509.9 L939.1,507.0 L939.3,504.2 L939.6,501.3 L939.9,498.5 L940.1,495.6 L940.4,492.8 L940.7,489.9 L941.0,487.1 L941.3,484.3 L941.5,481.4 L941.8,478.6 L942.1,475.7 L942.4,472.9 L942.8,470.1 L943.1,467.2 L943.4,464.4 L943.7,461.5 L944.0,458.7 L944.4,455.9 L944.7,453.0 L945.0,450.2 L945.4,447.3 L945.8,444.5 L946.1,441.7 L946.5,438.8 L946.9,436.0 L947.2,433.1 L947.6,430.3 L948.0,427.5 L948.4,424.6 L948.9,421.8 L949.3,419.0 L949.8,416.1 L950.2,413.3 L950.7,410.5 L951.2,407.7 L951.8,404.8 L952.3,402.0 L952.9,399.2 L953.5,396.4 L954.1,393.6 L954.8,390.8 L955.5,388.1 L956.2,385.3 L957.0,382.5 L957.8,379.7 L958.6,377.0 L959.4,374.2 L960.3,371.5 L961.3,368.8 L962.2,366.1 L963.2,363.4 L964.3,360.7 L965.4,358.0 L966.6,355.4 L967.8,352.8 L969.1,350.2 L970.5,347.8 L972.0,345.3 L973.6,343.0 L975.3,340.8 L977.1,338.6 L979.0,336.6 L981.0,334.7 L983.2,332.9 L985.4,331.2 L987.8,329.7 L990.2,328.2 L992.7,326.8 L995.1,325.4 L997.7,324.1 L1000.2,322.9 L1002.8,321.7 L1005.4,320.6 L1008.0,319.5 L1010.6,318.5 L1013.3,317.5 L1016.0,316.5 L1018.7,315.6 L1021.4,314.7 L1024.1,313.9 L1026.8,313.1 L1029.6,312.3 L1032.3,311.6 L1035.1,310.8 L1037.9,310.1 L1040.7,309.4 L1043.5,308.7 L1046.3,308.1 L1049.1,307.4 L1051.9,306.8 L1054.7,306.1 L1057.5,305.5 L1060.3,304.8 L1063.1,304.1 L1065.9,303.5 L1068.7,302.8 L1071.5,302.2 L1074.3,301.5 L1077.1,300.8 L1079.9,300.1 L1082.7,299.5 L1085.5,298.8 L1088.3,298.1 L1091.1,297.4 L1093.9,296.7 L1096.7,296.0 L1099.5,295.3 L1102.3,294.6 L1105.0,293.9 L1107.8,293.1 L1110.6,292.4 L1113.4,291.7 L1116.1,291.0 L1118.9,290.2 L1121.7,289.5 L1124.5,288.7 L1127.2,288.0 L1130.0,287.2 L1132.8,286.5 L1135.5,285.7 L1138.3,285.0 L1141.0,284.2 L1143.8,283.4 L1146.6,282.6 L1149.3,281.8 L1152.1,281.1 L1154.8,280.3 L1157.6,279.5 L1160.3,278.7 L1163.1,277.9 L1165.8,277.0 L1168.6,276.2 L1171.3,275.4 L1174.0,274.6 L1176.8,273.8 L1179.5,272.9 L1182.2,272.1 L1185.0,271.2 L1187.7,270.4 L1190.4,269.5 L1193.2,268.7 L1195.9,267.8 L1198.6,266.9 L1201.3,266.1 L1204.0,265.2 L1206.8,264.3 L1209.5,263.4 L1212.2,262.5 L1214.9,261.6 L1217.6,260.7 L1220.3,259.8 L1223.0,258.9 L1225.7,258.0 L1228.4,257.1 L1231.1,256.1 L1233.8,255.2 L1236.5,254.3 L1239.2,253.3 L1241.9,252.4 L1244.6,251.4 L1247.3,250.4 L1250.0,249.5 L1252.7,248.5 L1255.4,247.5 L1258.0,246.5 L1260.7,245.6 L1263.4,244.6 L1266.1,243.6 L1268.7,242.6 L1271.4,241.6 L1274.1,240.5 L1276.8,239.5 L1279.4,238.5 L1282.1,237.5 L1284.8,236.4 L1287.4,235.4 L1290.1,234.3 L1292.7,233.3 L1295.4,232.2 L1298.0,231.2 L1300.7,230.1 L1303.3,229.0 L1306.0,227.9 L1308.6,226.8 L1311.3,225.7 L1313.9,224.6 L1316.6,223.5 L1319.2,222.4 L1321.8,221.3 L1324.5,220.2 L1327.1,219.1 L1329.7,217.9 L1332.4,216.8 L1335.0,215.6 L1337.6,214.5 L1340.2,213.3 L1342.8,212.1 L1345.5,211.0 L1348.1,209.8 L1350.7,208.6 L1353.3,207.4 L1355.9,206.2 L1358.5,205.0 L1361.1,203.8 L1363.7,202.6 L1366.3,201.3 L1368.9,200.1 L1371.4,198.8 L1374.0,197.6 L1376.6,196.3 L1379.2,195.1 L1381.7,193.8 L1384.3,192.5 L1386.8,191.2 L1389.4,189.9 L1392.0,188.6 L1394.5,187.3 L1397.0,186.0 L1399.6,184.6 L1402.1,183.3 L1404.6,182.0 L1407.2,180.6 L1409.7,179.2 L1412.2,177.9 L1414.7,176.5 L1417.2,175.1 L1419.7,173.7 L1422.2,172.3 L1424.7,170.9 L1427.2,169.4 L1429.6,168.0 L1432.1,166.6 L1434.6,165.1 L1437.0,163.6 L1439.5,162.2 L1441.9,160.7 L1444.3,159.2 L1446.8,157.7 L1449.2,156.2 L1451.6,154.7 L1454.0,153.1 L1456.4,151.6 L1458.8,150.0 L1461.2,148.5 L1463.6,146.9 L1466.0,145.3 L1468.4,143.7 L1470.7,142.1 L1473.1,140.5 L1475.4,138.9 L1477.8,137.3 L1480.1,135.6 L1482.5,134.0 L1484.8,132.3 L1487.1,130.6 L1489.4,128.9 L1491.7,127.2 L1494.0,125.5 L1496.3,123.8 L1498.5,122.0 L1500.8,120.3 L1503.0,118.5 L1505.3,116.8 L1507.5,115.0 L1509.8,113.2 L1512.0,111.4 L1514.2,109.6 L1516.4,107.7 L1518.6,105.9 L1520.8,104.0 L1522.9,102.2 L1525.1,100.3 L1527.3,98.4 L1529.4,96.5 L1531.5,94.6 L1533.7,92.7 L1535.8,90.7 L1537.9,88.8 L1540.0,86.8"/>
<path class="c" stroke="#00aa00" d="M934.5,597.6 L934.7,594.7 L935.0,591.8 L935.2,588.9 L935.5,586.0 L935.7,583.1 L936.0,580.2 L936.3,577.4 L936.5,574.5 L936.8,571.6 L937.0,568.7 L937.3,565.8 L937.6,562.9 L937.9,560.0 L938.1,557.1 L938.4,554.2 L938.7,551.3 L939.0,548.4 L939.3,545.5 L939.6,542.6 L939.9,539.7 L940.2,536.9 L940.5,534.0 L940.8,531.1 L941.1,528.2 L941.5,525.3 L941.8,522.4 L942.1,519.5 L942.5,516.6 L942.8,513.8 L943.2,510.9 L943.5,508.0 L943.9,505.1 L944.3,502.2 L944.7,499.3 L945.0,496.5 L945.4,493.6 L945.8,490.7 L946.2,487.8 L946.6,485.0 L947.1,482.1 L947.5,479.2 L947.9,476.3 L948.4,473.5 L948.8,470.6 L949.3,467.7 L949.7,464.9 L950.2,462.0 L950.7,459.2 L951.2,456.3 L951.7,453.4 L952.2,450.6 L952.7,447.7 L953.2,444.9 L953.7,442.0 L954.3,439.2 L954.8,436.3 L955.4,433.5 L956.0,430.7 L956.6,427.8 L957.2,425.0 L957.8,422.2 L958.4,419.3 L959.1,416.5 L959.8,413.7 L960.5,410.9 L961.2,408.1 L962.0,405.3 L962.8,402.5 L963.6,399.7 L964.5,396.9 L965.4,394.2 L966.3,391.4 L967.3,388.6 L968.3,385.9 L969.3,383.2 L970.4,380.4 L971.6,377.7 L972.7,375.0 L974.0,372.3 L975.2,369.7 L976.6,367.0 L978.0,364.4 L979.4,361.9 L981.0,359.4 L982.6,356.9 L984.3,354.6 L986.1,352.3 L987.9,350.0 L989.9,347.9 L991.9,345.9 L994.0,343.9 L996.2,342.0 L998.4,340.3 L1000.7,338.6 L1003.0,337.1 L1005.4,335.6 L1007.8,334.3 L1010.3,333.0 L1012.9,331.8 L1015.4,330.7 L1018.1,329.6 L1020.7,328.7 L1023.4,327.7 L1026.1,326.9 L1028.9,326.1 L1031.7,325.3 L1034.5,324.6 L1037.3,323.9 L1040.1,323.3 L1043.0,322.7 L1045.9,322.1 L1048.8,321.6 L1051.7,321.0 L1054.6,320.5 L1057.5,320.0 L1060.4,319.5 L1063.3,318.9 L1066.2,318.4 L1069.1,317.9 L1072.0,317.4 L1074.9,316.8 L1077.8,316.3 L1080.7,315.8 L1083.6,315.3 L1086.4,314.7 L1089.3,314.2 L1092.2,313.7 L1095.1,313.1 L1098.0,312.6 L1100.9,312.0 L1103.7,311.5 L1106.6,311.0 L1109.5,310.4 L1112.4,309.9 L1115.3,309.3 L1118.1,308.7 L1121.0,308.2 L1123.9,307.6 L1126.7,307.1 L1129.6,306.5 L1132.5,305.9 L1135.3,305.3 L1138.2,304.8 L1141.0,304.2 L1143.9,303.6 L1146.7,303.0 L1149.6,302.4 L1152.4,301.8 L1155.3,301.2 L1158.1,300.6 L1161.0,300.0 L1163.8,299.4 L1166.7,298.7 L1169.5,298.1 L1172.3,297.5 L1175.2,296.8 L1178.0,296.2 L1180.8,295.6 L1183.7,294.9 L1186.5,294.3 L1189.3,293.6 L1192.1,292.9 L1195.0,292.3 L1197.8,291.6 L1200.6,290.9 L1203.4,290.2 L1206.2,289.5 L1209.0,288.8 L1211.8,288.1 L1214.6,287.4 L1217.4,286.7 L1220.2,285.9 L1223.0,285.2 L1225.8,284.4 L1228.6,283.7 L1231.4,282.9 L1234.2,282.2 L1237.0,281.4 L1239.8,280.6 L1242.6,279.8 L1245.3,279.1 L1248.1,278.3 L1250.9,277.4 L1253.7,276.6 L1256.4,275.8 L1259.2,275.0 L1262.0,274.1 L1264.7,273.3 L1267.5,272.4 L1270.2,271.6 L1273.0,270.7 L1275.8,269.8 L1278.5,268.9 L1281.2,268.0 L1284.0,267.1 L1286.7,266.2 L1289.5,265.3 L1292.2,264.3 L1295.0,263.4 L1297.7,262.4 L1300.4,261.5 L1303.1,260.5 L1305.9,259.5 L1308.6,258.5 L1311.3,257.5 L1314.0,256.5 L1316.7,255.5 L1319.5,254.4 L1322.2,253.4 L1324.9,252.3 L1327.6,251.3 L1330.3,250.2 L1333.0,249.1 L1335.7,248.0 L1338.3,246.9 L1341.0,245.8 L1343.7,244.6 L1346.4,243.5 L1349.1,242.4 L1351.7,241.2 L1354.4,240.0 L1357.1,238.8 L1359.7,237.6 L1362.4,236.4 L1365.0,235.2 L1367.7,234.0 L1370.3,232.8 L1372.9,231.5 L1375.6,230.3 L1378.2,229.0 L1380.8,227.7 L1383.4,226.4 L1386.0,225.1 L1388.6,223.8 L1391.2,222.5 L1393.8,221.1 L1396.4,219.8 L1398.9,218.4 L1401.5,217.0 L1404.1,215.7 L1406.6,214.3 L1409.2,212.9 L1411.7,211.4 L1414.3,210.0 L1416.8,208.6 L1419.3,207.1 L1421.8,205.7 L1424.3,204.2 L1426.8,202.7 L1429.3,201.2 L1431.8,199.7 L1434.3,198.1 L1436.8,196.6 L1439.2,195.1 L1441.7,193.5 L1444.1,191.9 L1446.6,190.3 L1449.0,188.8 L1451.4,187.1 L1453.8,185.5 L1456.2,183.9 L1458.6,182.2 L1461.0,180.6 L1463.4,178.9 L1465.8,177.2 L1468.1,175.5 L1470.5,173.8 L1472.8,172.1 L1475.1,170.4 L1477.5,168.6 L1479.8,166.9 L1482.1,165.1 L1484.4,163.3 L1486.6,161.5 L1488.9,159.7 L1491.2,157.9 L1493.4,156.1 L1495.7,154.2 L1497.9,152.4 L1500.1,150.5 L1502.3,148.6 L1504.5,146.7 L1506.7,144.8 L1508.9,142.9 L1511.0,140.9 L1513.2,139.0 L1515.3,137.0 L1517.4,135.0 L1519.5,133.0 L1521.6,131.0 L1523.7,129.0 L1525.8,127.0 L1527.9,124.9 L1529.9,122.9 L1532.0,120.8 L1534.0,118.7 L1536.0,116.6 L1538.0,114.5 L1540.0,112.4"/>
</g>
<path d="M125.85,3.40 V632.95 H787.55" fill="none" stroke="#333333" stroke-width="1.8" stroke-linejoin="round" stroke-linecap="round"/>
<path d="M787.55,632.95 V3.40" fill="none" stroke="#222222" stroke-width="1.8" stroke-linecap="round"/>
<path d="M125.85,3.40 H787.55" fill="none" stroke="#000" stroke-width="1.6" stroke-linecap="round"/>
<line x1="165.90" y1="632.95" x2="165.90" y2="619.65" stroke="#333333" stroke-width="1.8"/>
<text transform="translate(156.50,676.00) scale(0.937,1.0)" font-size="34.4" text-anchor="middle">0</text>
<line x1="311.56" y1="632.95" x2="311.56" y2="619.65" stroke="#333333" stroke-width="1.8"/>
<text transform="translate(311.56,676.00) scale(0.937,1.0)" font-size="34.4" text-anchor="middle">0.1</text>
<line x1="457.22" y1="632.95" x2="457.22" y2="619.65" stroke="#333333" stroke-width="1.8"/>
<text transform="translate(457.22,676.00) scale(0.937,1.0)" font-size="34.4" text-anchor="middle">0.2</text>
<line x1="602.88" y1="632.95" x2="602.88" y2="619.65" stroke="#333333" stroke-width="1.8"/>
<text transform="translate(602.88,676.00) scale(0.937,1.0)" font-size="34.4" text-anchor="middle">0.3</text>
<line x1="748.54" y1="632.95" x2="748.54" y2="619.65" stroke="#333333" stroke-width="1.8"/>
<text transform="translate(748.54,676.00) scale(0.937,1.0)" font-size="34.4" text-anchor="middle">0.4</text>
<line x1="125.85" y1="632.95" x2="139.15" y2="632.95" stroke="#333333" stroke-width="1.8"/>
<text transform="translate(112.95,645.65) scale(0.937,1.0)" font-size="34.4" text-anchor="end">0</text>
<line x1="125.85" y1="493.08" x2="139.15" y2="493.08" stroke="#333333" stroke-width="1.8"/>
<text transform="translate(112.95,505.78) scale(0.937,1.0)" font-size="34.4" text-anchor="end">0.05</text>
<line x1="125.85" y1="353.20" x2="139.15" y2="353.20" stroke="#333333" stroke-width="1.8"/>
<text transform="translate(112.95,365.90) scale(0.937,1.0)" font-size="34.4" text-anchor="end">0.10</text>
<line x1="125.85" y1="213.33" x2="139.15" y2="213.33" stroke="#333333" stroke-width="1.8"/>
<text transform="translate(112.95,226.03) scale(0.937,1.0)" font-size="34.4" text-anchor="end">0.15</text>
<line x1="125.85" y1="73.45" x2="139.15" y2="73.45" stroke="#333333" stroke-width="1.8"/>
<text transform="translate(112.95,86.15) scale(0.937,1.0)" font-size="34.4" text-anchor="end">0.20</text>
<path d="M895.0,3.40 V632.95 H1536.9" fill="none" stroke="#333333" stroke-width="1.8" stroke-linejoin="round" stroke-linecap="round"/>
<path d="M1536.9,632.95 V3.40" fill="none" stroke="#222222" stroke-width="1.8" stroke-linecap="round"/>
<path d="M895.0,3.40 H1536.9" fill="none" stroke="#000" stroke-width="1.6" stroke-linecap="round"/>
<line x1="934.05" y1="632.95" x2="934.05" y2="619.65" stroke="#333333" stroke-width="1.8"/>
<text transform="translate(934.35,676.00) scale(0.937,1.0)" font-size="34.4" text-anchor="middle">0</text>
<line x1="1034.49" y1="632.95" x2="1034.49" y2="619.65" stroke="#333333" stroke-width="1.8"/>
<text transform="translate(1034.49,676.00) scale(0.937,1.0)" font-size="34.4" text-anchor="middle">0.05</text>
<line x1="1134.93" y1="632.95" x2="1134.93" y2="619.65" stroke="#333333" stroke-width="1.8"/>
<text transform="translate(1134.93,676.00) scale(0.937,1.0)" font-size="34.4" text-anchor="middle">0.10</text>
<line x1="1235.37" y1="632.95" x2="1235.37" y2="619.65" stroke="#333333" stroke-width="1.8"/>
<text transform="translate(1235.37,676.00) scale(0.937,1.0)" font-size="34.4" text-anchor="middle">0.15</text>
<line x1="1335.81" y1="632.95" x2="1335.81" y2="619.65" stroke="#333333" stroke-width="1.8"/>
<text transform="translate(1335.81,676.00) scale(0.937,1.0)" font-size="34.4" text-anchor="middle">0.20</text>
<line x1="1436.25" y1="632.95" x2="1436.25" y2="619.65" stroke="#333333" stroke-width="1.8"/>
<text transform="translate(1436.25,676.00) scale(0.937,1.0)" font-size="34.4" text-anchor="middle">0.25</text>
<line x1="1536.69" y1="632.95" x2="1536.69" y2="619.65" stroke="#333333" stroke-width="1.8"/>
<text transform="translate(1536.69,676.00) scale(0.937,1.0)" font-size="34.4" text-anchor="middle">0.30</text>
<line x1="895.0" y1="632.95" x2="908.30" y2="632.95" stroke="#333333" stroke-width="1.8"/>
<text transform="translate(882.10,645.65) scale(0.937,1.0)" font-size="34.4" text-anchor="end">0.01</text>
<line x1="895.0" y1="483.00" x2="908.30" y2="483.00" stroke="#333333" stroke-width="1.8"/>
<text transform="translate(882.10,495.70) scale(0.937,1.0)" font-size="34.4" text-anchor="end">0.02</text>
<line x1="895.0" y1="333.05" x2="908.30" y2="333.05" stroke="#333333" stroke-width="1.8"/>
<text transform="translate(882.10,345.75) scale(0.937,1.0)" font-size="34.4" text-anchor="end">0.03</text>
<line x1="895.0" y1="183.10" x2="908.30" y2="183.10" stroke="#333333" stroke-width="1.8"/>
<text transform="translate(882.10,195.80) scale(0.937,1.0)" font-size="34.4" text-anchor="end">0.04</text>
<line x1="895.0" y1="33.15" x2="908.30" y2="33.15" stroke="#333333" stroke-width="1.8"/>
<text transform="translate(882.10,45.85) scale(0.937,1.0)" font-size="34.4" text-anchor="end">0.05</text>
<text transform="translate(144.90,42.90) scale(0.92,1.0)" font-size="38" text-anchor="start" class="bd">a<tspan dx="1.3">.</tspan></text>
<text transform="translate(929.40,45.40) scale(1.0,1.0)" font-size="38" text-anchor="start" class="bd">b.</text>
<text transform="translate(32.70,318.40) rotate(-90) scale(0.965,1.0)" font-size="41.7" text-anchor="middle">Potential / V</text>
<text transform="translate(621.1,739.5) scale(0.965,1)" font-size="41.7">Current Density / A·cm<tspan font-size="31.7" dy="-19.7" dx="-1">-2</tspan></text>
<line x1="577.5" y1="453.90" x2="680.9" y2="453.90" stroke="#ff0000" stroke-width="3.3"/>
<text class="k" transform="translate(689.3,470.50) scale(0.93,1)" font-size="31">120<tspan font-size="27" dx="0.2" dy="-11.3" style="stroke:none">°</tspan><tspan font-size="31.7" dy="11.4"> C</tspan></text>
<line x1="577.5" y1="498.87" x2="680.9" y2="498.87" stroke="#0000ff" stroke-width="3.3"/>
<text class="k" transform="translate(689.3,515.37) scale(0.93,1)" font-size="31">140<tspan font-size="27" dx="0.2" dy="-11.3" style="stroke:none">°</tspan><tspan font-size="31.7" dy="11.4"> C</tspan></text>
<line x1="577.5" y1="543.84" x2="680.9" y2="543.84" stroke="#00aa00" stroke-width="3.3"/>
<text class="k" transform="translate(689.3,560.24) scale(0.93,1)" font-size="31">160<tspan font-size="27" dx="0.2" dy="-11.3" style="stroke:none">°</tspan><tspan font-size="31.7" dy="11.4"> C</tspan></text>
<line x1="577.5" y1="588.81" x2="680.9" y2="588.81" stroke="#7b2a8f" stroke-width="3.3"/>
<text class="k" transform="translate(689.3,605.11) scale(0.93,1)" font-size="31">180<tspan font-size="27" dx="0.2" dy="-11.3" style="stroke:none">°</tspan><tspan font-size="31.7" dy="11.4"> C</tspan></text>
<line x1="1327.65" y1="451.30" x2="1431.0" y2="451.30" stroke="#ff0000" stroke-width="3.3"/>
<text class="k" transform="translate(1439.6,468.10) scale(0.93,1)" font-size="31">120<tspan font-size="27" dx="0.2" dy="-11.3" style="stroke:none">°</tspan><tspan font-size="31.7" dy="11.4"> C</tspan></text>
<line x1="1327.65" y1="497.70" x2="1431.0" y2="497.70" stroke="#0000ff" stroke-width="3.3"/>
<text class="k" transform="translate(1439.6,514.22) scale(0.93,1)" font-size="31">140<tspan font-size="27" dx="0.2" dy="-11.3" style="stroke:none">°</tspan><tspan font-size="31.7" dy="11.4"> C</tspan></text>
<line x1="1327.65" y1="544.10" x2="1431.0" y2="544.10" stroke="#00aa00" stroke-width="3.3"/>
<text class="k" transform="translate(1439.6,560.34) scale(0.93,1)" font-size="31">160<tspan font-size="27" dx="0.2" dy="-11.3" style="stroke:none">°</tspan><tspan font-size="31.7" dy="11.4"> C</tspan></text>
<line x1="1327.65" y1="590.50" x2="1431.0" y2="590.50" stroke="#7b2a8f" stroke-width="3.3"/>
<text class="k" transform="translate(1439.6,606.46) scale(0.93,1)" font-size="31">180<tspan font-size="27" dx="0.2" dy="-11.3" style="stroke:none">°</tspan><tspan font-size="31.7" dy="11.4"> C</tspan></text>
</svg>
</body></html>
